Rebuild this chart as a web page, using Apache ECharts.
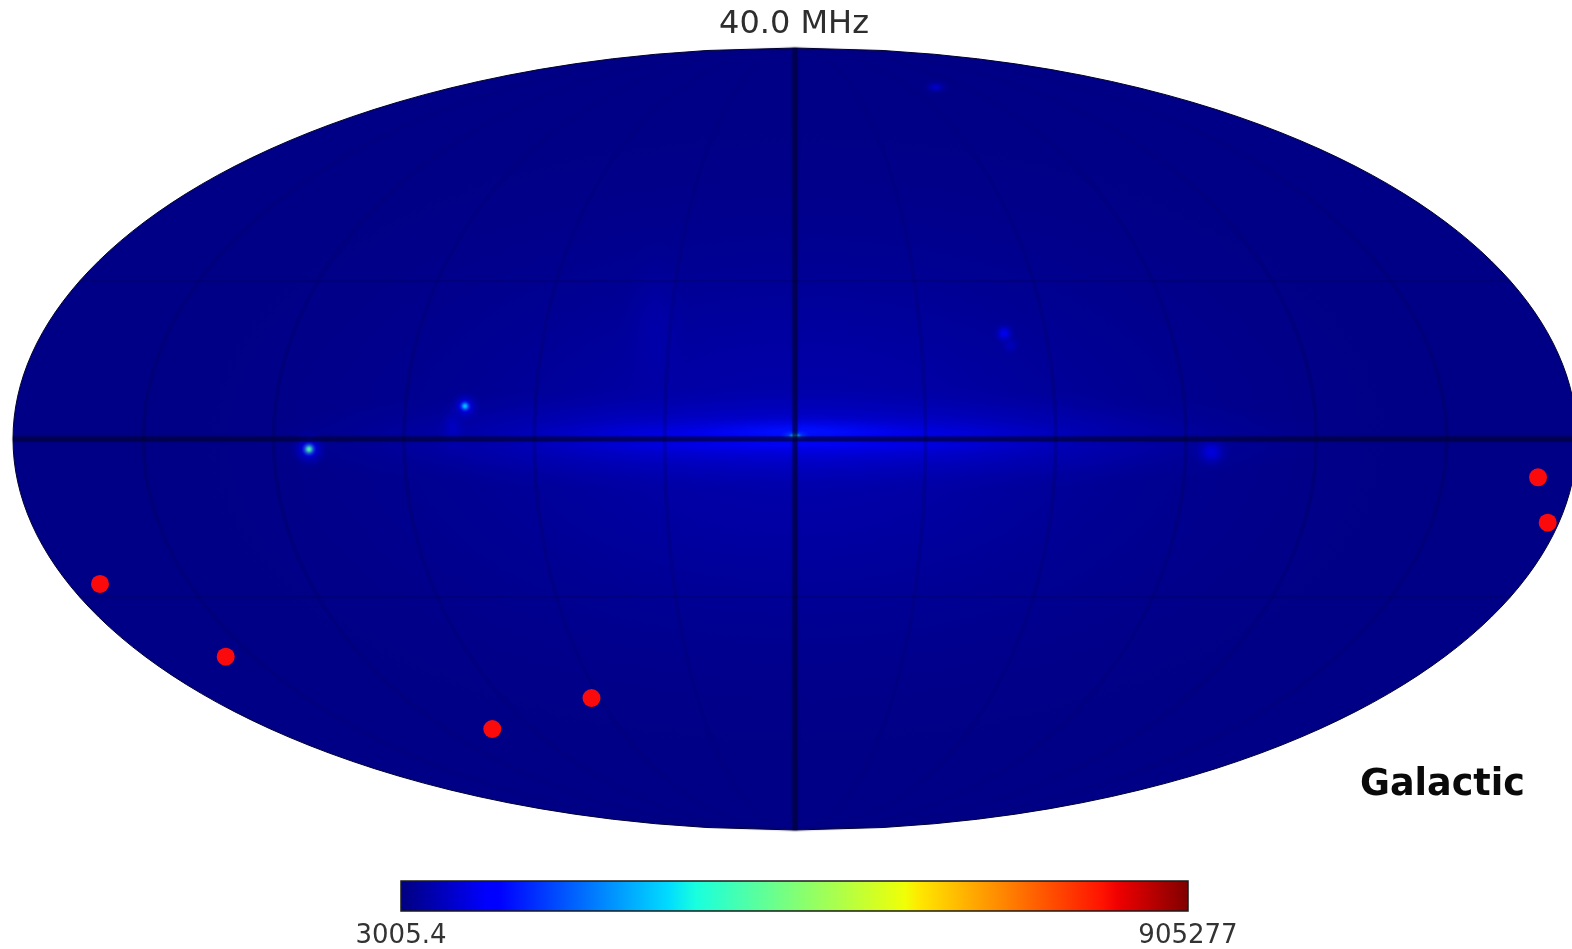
<!DOCTYPE html>
<html><head><meta charset="utf-8">
<style>html,body{margin:0;padding:0;background:#fff}#c{width:1572px;height:949px}</style>
<script src="https://cdn.jsdelivr.net/npm/echarts@6/dist/echarts.min.js"></script>
</head><body><div id="c"></div>
<script>
// ---- data ----
const titleText = '40.0 MHz';
const coordLabel = 'Galactic';
const colorbarTicks = [3005.4, 905277];
const meridians = [-150, -120, -90, -60, -30, 0, 30, 60, 90, 120, 150];
const parallels = [-30, 0, 30];
// red markers, Mollweide map units
const redX = [-1.7775, -1.456, -0.7742, -0.5205, 1.9003, 1.9251];
const redY = [-0.3708, -0.5568, -0.7417, -0.6624, -0.098, -0.2141];
// diffuse emission and sources: centre x, centre y, half-width, half-height (map units), peak value
const skyX = [0, 0, 0, 0.013, -0.358, 0.0, 0.0, -1.243, -1.243, -0.844, -0.844, -0.875, 0.535, 0.55, 1.065, 0.36];
const skyY = [0, 0, 0.003, 0.015, 0.26, 0.008, 0.008, -0.026, -0.026, 0.084, 0.084, 0.028, 0.27, 0.24, -0.033, 0.9];
const skyW = [1.64, 1.43, 0.77, 0.31, 0.1, 0.04, 0.018, 0.05, 0.02, 0.04, 0.016, 0.04, 0.03, 0.03, 0.05, 0.036];
const skyH = [0.85, 0.14, 0.055, 0.045, 0.26, 0.016, 0.009, 0.05, 0.02, 0.04, 0.016, 0.07, 0.03, 0.03, 0.046, 0.02];
const skyV = [40000, 80000, 112000, 130000, 36000, 200000, 340000, 110000, 400000, 110000, 300000, 55000, 95000, 50000, 80000, 60000];
// ---- colormap and projection ----
const jetStops = [[0,'#00007f'],[0.11,'#0000ff'],[0.125,'#0000ff'],[0.34,'#00dcff'],[0.375,'#19ffde'],[0.5,'#80ff77'],[0.64,'#f0ff06'],[0.66,'#ffe600'],[0.89,'#ff1300'],[0.91,'#f00000'],[1,'#7f0000']];
const [vMin, vMax] = colorbarTicks;
function hex(c){return [1,3,5].map(i=>parseInt(c.substr(i,2),16));}
function jet(v){
  const t=Math.max(0,Math.min(1,(v-vMin)/(vMax-vMin)));
  for(let i=1;i<jetStops.length;i++){
    if(t<=jetStops[i][0]){
      const a=jetStops[i-1],b=jetStops[i],f=(t-a[0])/(b[0]-a[0]),A=hex(a[1]),B=hex(b[1]);
      return A.map((x,k)=>Math.round(x+(B[k]-x)*f));
    }
  }
  return hex(jetStops[jetStops.length-1][1]);
}
function moll(lon,lat){
  const phi=lat*Math.PI/180;
  let th=phi;
  if(Math.abs(lat)<90) for(let i=0;i<60;i++){
    const d=(2*th+Math.sin(2*th)-Math.PI*Math.sin(phi))/(2+2*Math.cos(2*th));
    th-=d; if(Math.abs(d)<1e-9)break;
  }
  return [lon/90*Math.cos(th),Math.sin(th)];
}
const lats=[];for(let a=-90;a<=90;a+=2)lats.push(a);
const lons=[];for(let a=-180;a<=180;a+=3)lons.push(a);
const outline=lats.map(a=>moll(180,a)).concat(lats.slice().reverse().map(a=>moll(-180,a)));
// map axes: equal scale, whole page
const cx=795,cy=439,unit=391,W=1572,H=949;
const xMin=(0-cx)/unit,xMax=(W-cx)/unit,yMax=cy/unit,yMin=(cy-H)/unit;

const fadeY={type:'linear',x:0,y:0,x2:0,y2:1,colorStops:[
  {offset:0,color:'rgba(0,0,50,0.02)'},{offset:0.35,color:'rgba(0,0,50,0.12)'},{offset:0.5,color:'rgba(0,0,50,0.2)'},
  {offset:0.65,color:'rgba(0,0,50,0.12)'},{offset:1,color:'rgba(0,0,50,0.03)'}]};
function gratLine(pts,kind){
  const style={
    strong:{color:'rgba(0,0,60,0.62)',width:5,shadowColor:'rgba(0,0,50,0.5)',shadowBlur:3},
    parallel:{color:'rgba(0,0,50,0.16)',width:2.5},
    meridian:{color:fadeY,width:4}
  }[kind];
  return {type:'line',xAxisIndex:0,yAxisIndex:0,data:pts,showSymbol:false,symbol:'none',silent:true,z:4,lineStyle:style};
}
const gratSeries=[];
meridians.forEach(m=>gratSeries.push(gratLine(lats.map(a=>moll(m,a)),m===0?'strong':'meridian')));
parallels.forEach(p=>gratSeries.push(gratLine(lons.map(a=>moll(a,p)),p===0?'strong':'parallel')));

const skyData=skyX.map((x,i)=>[x,skyY[i],skyW[i],skyH[i],skyV[i]]);
const option={
  animation:false,
  backgroundColor:'#fff',
  title:[
    {text:titleText,left:789,top:4,textAlign:'center',textStyle:{fontFamily:'DejaVu Sans',fontSize:32,fontWeight:'normal',color:'#2e2e2e'}},
    {text:coordLabel,left:1355,top:762,textStyle:{fontFamily:'DejaVu Sans',fontSize:36.5,fontWeight:'bold',color:'#0a0a0a'}}
  ],
  grid:[
    {left:0,right:0,top:0,bottom:0},
    {left:401,top:881,width:787,height:30}
  ],
  xAxis:[
    {type:'value',gridIndex:0,min:xMin,max:xMax,show:false},
    {type:'value',gridIndex:1,min:vMin,max:vMax,axisLine:{show:false},axisTick:{show:false},splitLine:{show:false},
     axisLabel:{customValues:colorbarTicks,formatter:v=>String(v),margin:12,fontFamily:'DejaVu Sans',fontSize:26,color:'#333',hideOverlap:false,showMinLabel:true,showMaxLabel:true}}
  ],
  yAxis:[
    {type:'value',gridIndex:0,min:yMin,max:yMax,show:false},
    {type:'value',gridIndex:1,min:0,max:1,show:false}
  ],
  series:[
    {type:'custom',xAxisIndex:0,yAxisIndex:0,silent:true,z:1,clip:false,data:[[0,0]],
     renderItem:(p,api)=>({type:'polygon',shape:{points:outline.map(q=>api.coord(q))},
       style:{fill:'#000086',stroke:'#000030',lineWidth:1}})},
    {type:'custom',xAxisIndex:0,yAxisIndex:0,silent:true,z:2,data:skyData,
     renderItem:(p,api)=>{
       const c=api.coord([api.value(0),api.value(1)]);
       const s=api.size([api.value(2),api.value(3)]);
       const rgb=jet(api.value(4)).join(',');
       return {type:'circle',x:c[0],y:c[1],scaleX:s[0]/s[1],scaleY:1,shape:{cx:0,cy:0,r:s[1]},
         style:{fill:{type:'radial',x:0.5,y:0.5,r:0.5,colorStops:[
           {offset:0,color:`rgba(${rgb},1)`},{offset:0.25,color:`rgba(${rgb},0.75)`},
           {offset:0.55,color:`rgba(${rgb},0.3)`},{offset:0.8,color:`rgba(${rgb},0.08)`},{offset:1,color:`rgba(${rgb},0)`}]}}};
     }},
    ...gratSeries,
    {type:'scatter',xAxisIndex:0,yAxisIndex:0,silent:true,z:6,symbol:'circle',symbolSize:18,
     itemStyle:{color:'#fb0a0c',opacity:1},data:redX.map((x,i)=>[x,redY[i]])},
    {type:'custom',xAxisIndex:1,yAxisIndex:1,silent:true,z:3,data:[[vMin,vMax]],clip:false,
     renderItem:(p,api)=>{
       const a=api.coord([api.value(0),1]),b=api.coord([api.value(1),0]);
       return {type:'rect',shape:{x:a[0],y:a[1],width:b[0]-a[0],height:b[1]-a[1]},
         style:{stroke:'#1a1a1a',lineWidth:1.5,fill:{type:'linear',x:0,y:0,x2:1,y2:0,
           colorStops:jetStops.map(s=>({offset:s[0],color:s[1]}))}}};
     }}
  ]
};
echarts.init(document.getElementById('c'),null,{renderer:'canvas'}).setOption(option);
</script></body></html>
